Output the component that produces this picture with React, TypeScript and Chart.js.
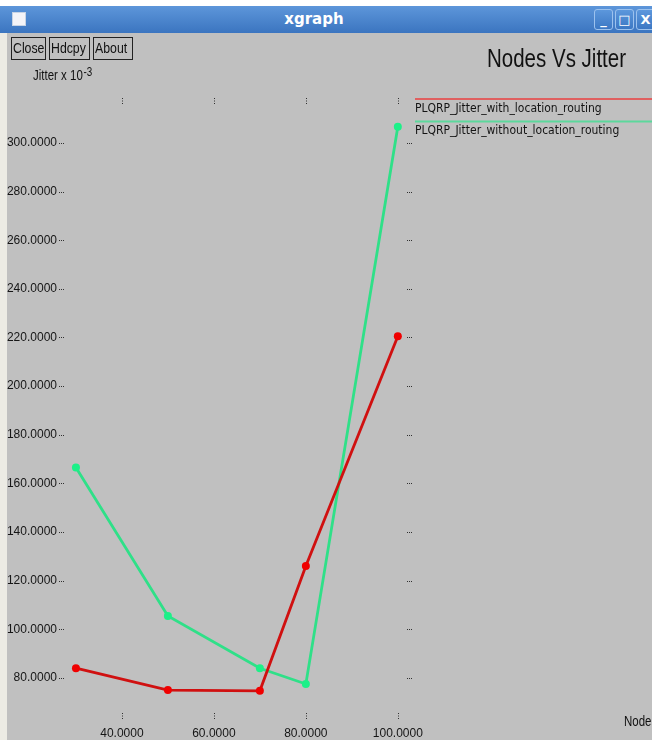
import {useEffect, useRef} from 'react'
import {Chart, registerables} from 'chart.js'
import type {ChartOptions, Plugin} from 'chart.js'

Chart.register(...registerables)

// values (jitter in units of 10^-3)
const nodeCounts = [30, 50, 70, 80, 100]
const jitterWithLocation = [84, 75, 74.7, 126, 220.5]
const jitterWithoutLocation = [166.5, 105.5, 84, 77.5, 306.7]
const seriesNames = ['PLQRP_Jitter_with_location_routing', 'PLQRP_Jitter_without_location_routing']
const xTickValues = [40, 60, 80, 100]
const yTickValues = [80, 100, 120, 140, 160, 180, 200, 220, 240, 260, 280, 300]

const sans = "'Liberation Sans', Arial, sans-serif"
const condensed = "'DejaVu Sans Condensed', sans-serif"
const redLine = '#d01010'
const redPoint = '#f00000'
const greenLine = '#2fe088'
const greenPoint = '#1cf088'

// little dotted tick marks xgraph draws on the inside of the frame
const frameTicks: Plugin<'line'> = {
    id: 'frameTicks',
    beforeDatasetsDraw(chart) {
        const {ctx, chartArea} = chart
        const {left, right, top, bottom} = chartArea
        const x = chart.scales.x
        const y = chart.scales.y
        ctx.save()
        ctx.fillStyle = '#303030'
        for (const v of yTickValues) {
            const py = Math.round(y.getPixelForValue(v))
            for (let i = 0; i < 3; i++) {
                ctx.fillRect(left + 1 + i * 2, py, 1, 1)
                ctx.fillRect(right - 6 + i * 2, py, 1, 1)
            }
        }
        for (const v of xTickValues) {
            const px = Math.round(x.getPixelForValue(v))
            for (let i = 0; i < 3; i++) {
                ctx.fillRect(px, top + 1 + i * 2.5, 1, 1)
                ctx.fillRect(px, bottom - 7 + i * 2.5, 1, 1)
            }
        }
        ctx.restore()
    },
}

// legend on the right: coloured line with the name underneath
const sideLegend: Plugin<'line'> = {
    id: 'sideLegend',
    afterDraw(chart) {
        const {ctx, chartArea} = chart
        const x0 = chartArea.right + 2
        ctx.save()
        chart.data.datasets.forEach((ds, i) => {
            const ly = chartArea.top + 2 + i * 22.5
            ctx.strokeStyle = i === 0 ? '#e06060' : '#5cd89c'
            ctx.lineWidth = 2
            ctx.beginPath()
            ctx.moveTo(x0, ly)
            ctx.lineTo(chart.width, ly)
            ctx.stroke()
            ctx.fillStyle = '#141414'
            ctx.font = `12px ${condensed}`
            ctx.textBaseline = 'middle'
            ctx.fillText(String(ds.label), x0, ly + 9.5)
        })
        ctx.restore()
    },
}

const squeeze = {display: 'inline-block', transform: 'scaleX(0.82)', transformOrigin: 'left center', whiteSpace: 'nowrap' as const}

const buttonStyle = {
    position: 'absolute' as const,
    top: 37,
    height: 23,
    boxSizing: 'border-box' as const,
    border: '1.5px solid #222',
    font: `15px ${sans}`,
    lineHeight: '20px',
    color: '#111',
    paddingLeft: 1,
    overflow: 'hidden',
}

const winBtn = {
    position: 'absolute' as const,
    top: 3,
    width: 19,
    height: 21,
    boxSizing: 'border-box' as const,
    borderRadius: 3,
    border: '1px solid #9cc2ee',
    background: 'linear-gradient(#5c97dc, #3c78c4)',
    color: '#fff',
    font: 'bold 13px DejaVu Sans, sans-serif',
    textAlign: 'center' as const,
    lineHeight: '19px',
}

function App() {
    const canvasRef = useRef<HTMLCanvasElement>(null)
    const chartRef = useRef<Chart<'line'> | null>(null)

    useEffect(() => {
        if (!canvasRef.current) return
        chartRef.current?.destroy()
        const ctx = canvasRef.current.getContext('2d')
        if (!ctx) return

        const tickFont = {family: sans, size: 12}

        const options: ChartOptions<'line'> = {
            responsive: false,
            animation: false,
            layout: {padding: {top: 97, right: 239, left: 0, bottom: 0}},
            plugins: {legend: {display: false}, tooltip: {enabled: false}},
            scales: {
                x: {
                    type: 'linear',
                    min: 26.1,
                    max: 103.3,
                    afterBuildTicks: (scale) => {
                        scale.ticks = xTickValues.map((value) => ({value}))
                    },
                    afterFit: (scale) => {
                        scale.height = 20
                    },
                    grid: {display: false, drawTicks: false},
                    border: {display: false},
                    ticks: {
                        font: tickFont,
                        color: '#151515',
                        padding: 6,
                        maxRotation: 0,
                        autoSkip: false,
                        callback: (v) => Number(v).toFixed(4),
                    },
                },
                y: {
                    type: 'linear',
                    min: 62.7,
                    max: 318.9,
                    afterBuildTicks: (scale) => {
                        scale.ticks = yTickValues.map((value) => ({value}))
                    },
                    afterFit: (scale) => {
                        scale.width = 58
                    },
                    grid: {display: false, drawTicks: false},
                    border: {display: false},
                    ticks: {
                        font: tickFont,
                        color: '#151515',
                        padding: 1,
                        autoSkip: false,
                        callback: (v) => Number(v).toFixed(4),
                    },
                },
            },
        }

        chartRef.current = new Chart(ctx, {
            type: 'line',
            data: {
                datasets: [
                    {
                        label: seriesNames[0],
                        data: nodeCounts.map((n, i) => ({x: n, y: jitterWithLocation[i]})),
                        borderColor: redLine,
                        borderWidth: 2.8,
                        pointRadius: 4,
                        pointBackgroundColor: redPoint,
                        pointBorderColor: redPoint,
                        pointBorderWidth: 0,
                        tension: 0,
                    },
                    {
                        label: seriesNames[1],
                        data: nodeCounts.map((n, i) => ({x: n, y: jitterWithoutLocation[i]})),
                        borderColor: greenLine,
                        borderWidth: 2.8,
                        pointRadius: 4,
                        pointBackgroundColor: greenPoint,
                        pointBorderColor: greenPoint,
                        pointBorderWidth: 0,
                        tension: 0,
                    },
                ],
            },
            options,
            plugins: [frameTicks, sideLegend],
        })

        return () => {
            chartRef.current?.destroy()
            chartRef.current = null
        }
    }, [])

    return (
        <div style={{position: 'fixed', left: 0, top: 0, width: 652, height: 740, overflow: 'hidden', background: '#c0c0c0'}}>
            <div style={{position: 'absolute', left: 0, top: 0, width: 652, height: 6, background: '#fff'}}/>
            <div style={{position: 'absolute', left: 0, top: 33, width: 7, height: 707, background: '#ecebe4'}}/>
            <canvas ref={canvasRef} width={652} height={740} style={{position: 'absolute', left: 0, top: 0}}/>

            {/* window title bar */}
            <div style={{position: 'absolute', left: 0, top: 6, width: 652, height: 27, background: 'linear-gradient(#5d96da, #3b75c0)'}}>
                <div style={{position: 'absolute', left: 12, top: 6, width: 14, height: 14, background: '#f4f4f8', border: '1px solid #c8d4e4', boxSizing: 'border-box'}}/>
                <div style={{position: 'absolute', left: 0, width: 628, top: 4, textAlign: 'center', color: '#fff', font: 'bold 15px DejaVu Sans, sans-serif'}}>xgraph</div>
                <div style={{...winBtn, left: 594}}>_</div>
                <div style={{...winBtn, left: 615}}>□</div>
                <div style={{...winBtn, left: 636}}>X</div>
            </div>

            <div style={{...buttonStyle, left: 11, width: 35}}><span style={squeeze}>Close</span></div>
            <div style={{...buttonStyle, left: 49, width: 41}}><span style={squeeze}>Hdcpy</span></div>
            <div style={{...buttonStyle, left: 93, width: 40}}><span style={squeeze}>About</span></div>

            <div style={{position: 'absolute', left: 33, top: 65, font: `14px ${sans}`, lineHeight: '14px', color: '#111'}}>
                <span style={squeeze}>
                    Jitter x 10<sup style={{fontSize: 12, verticalAlign: 4, marginLeft: 1}}>-3</sup>
                </span>
            </div>
            <div style={{position: 'absolute', left: 487, top: 46, font: `25px ${sans}`, lineHeight: '25px', color: '#111'}}>
                <span style={squeeze}>Nodes Vs Jitter</span>
            </div>
            <div style={{position: 'absolute', left: 624, top: 714, font: `14px ${sans}`, lineHeight: '14px', color: '#111'}}>
                <span style={squeeze}>Nodes</span>
            </div>
        </div>
    )
}

export default App
